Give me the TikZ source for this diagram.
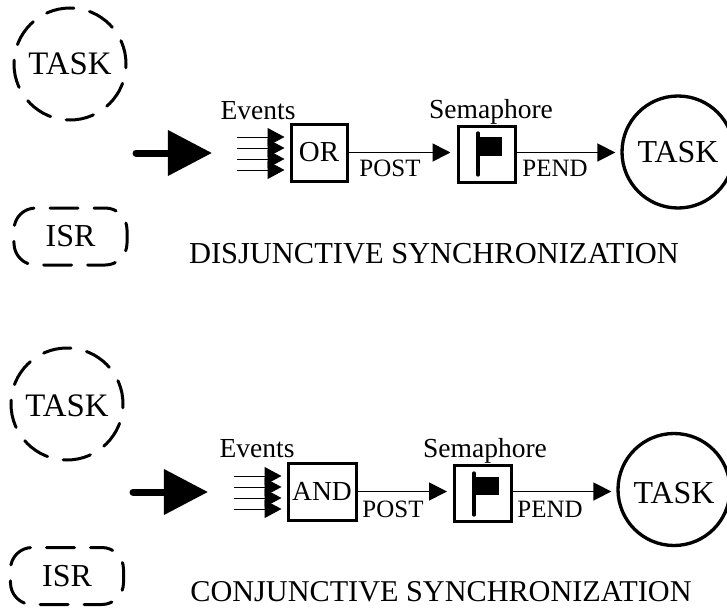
\documentclass[tikz,border=0pt]{standalone}
\usepackage{fontspec}
\setmainfont{Liberation Serif}
\usetikzlibrary{arrows.meta}

\begin{document}
\begin{tikzpicture}[x=0.03cm,y=-0.03cm,
		labeltext/.style={font=\fontsize{23.5}{26}\selectfont,inner sep=0},
		smalltext/.style={font=\fontsize{21.3}{24}\selectfont,inner sep=0},
		titletext/.style={font=\fontsize{26}{28}\selectfont,inner sep=0},
		dashtask/.style={circle,draw,line width=0.09cm,line cap=round,dash pattern=on 0.84cm off 0.48cm,dash phase=0.12cm,minimum size=3.36cm,inner sep=0,font=\fontsize{28}{30}\selectfont},
		dashisr/.style={rectangle,rounded corners=0.65cm,draw,line width=0.09cm,line cap=round,dash pattern=on 0.84cm off 0.48cm,dash phase=0.5cm,minimum width=3.39cm,minimum height=1.71cm,inner sep=0,font=\fontsize{27.3}{30}\selectfont},
		gatebox/.style={rectangle,draw,line width=0.09cm,minimum height=1.71cm,inner sep=0,font=\fontsize{24.7}{28}\selectfont},
		sembox/.style={rectangle,draw,line width=0.09cm,minimum width=1.71cm,minimum height=1.68cm,inner sep=0},
		solidtask/.style={circle,draw,line width=0.1cm,minimum size=3.36cm,inner sep=0,font=\fontsize{27.3}{30}\selectfont},
		bigarrow/.style={line width=0.21cm,line cap=round,-{Triangle[length=1.32cm,width=1.32cm]}},
		eventarrow/.style={line width=0.03cm,-{Triangle[length=0.51cm,width=0.54cm]},shorten >=0.15cm},
		linkarrow/.style={line width=0.05cm,-{Triangle[length=0.54cm,width=0.54cm]}}]
	\useasboundingbox (0,0) rectangle (727,610);

	% Disjunctive: sources
	\node[dashtask] (taskA) at (70,64) {TASK};
	\node[dashisr] (isrA) at (70.5,236.5) {ISR};
	\coordinate (bigA) at (136,153);
	\coordinate (bigAend) at (212,153);
	\draw[bigarrow] (bigA) -- (bigAend);

	% Disjunctive: events and OR
	\node[gatebox,minimum width=1.68cm] (orbox) at (319,152.5) {OR};
	\node[labeltext] (eventsA) at (258,111) {Events};
	\coordinate (evA1) at (237,137);
	\coordinate (evA2) at (237,148);
	\coordinate (evA3) at (237,159);
	\coordinate (evA4) at (237,170);
	\draw[eventarrow] (evA1) -- (evA1 -| orbox.west);
	\draw[eventarrow] (evA2) -- (evA2 -| orbox.west);
	\draw[eventarrow] (evA3) -- (evA3 -| orbox.west);
	\draw[eventarrow] (evA4) -- (evA4 -| orbox.west);

	% Disjunctive: semaphore
	\node[sembox] (semA) at (486.5,154) {};
	\node[labeltext] (semlabelA) at (491,112) {Semaphore};
	\fill (478,137) rectangle (502,156);
	\draw[line width=0.1cm,line cap=round] (478,133) -- (478,175);
	\draw[linkarrow,shorten >=0.18cm] (orbox.east) -- (orbox.east -| semA.west);
	\node[smalltext] (postA) at (390,168) {POST};

	% Disjunctive: task
	\node[solidtask] (taskB) at (678,152) {TASK};
	\draw[linkarrow,shorten >=0.15cm] (orbox.east -| semA.east) -- (orbox.east -| taskB.west);
	\node[smalltext] (pendA) at (555,168) {PEND};
	\node[titletext] (titleA) at (434,254) {DISJUNCTIVE SYNCHRONIZATION};

	% Conjunctive: sources
	\node[dashtask,text height=0.75cm] (taskC) at (67,404) {TASK};
	\node[dashisr] (isrC) at (67,576) {ISR};
	\coordinate (bigC) at (133,492);
	\coordinate (bigCend) at (208,492);
	\draw[bigarrow] (bigC) -- (bigCend);

	% Conjunctive: events and AND
	\node[gatebox,minimum width=2.04cm,font=\fontsize{23.5}{26}\selectfont] (andbox) at (322,491.5) {AND};
	\node[labeltext] (eventsC) at (257,449) {Events};
	\coordinate (evC1) at (234,476);
	\coordinate (evC2) at (234,487);
	\coordinate (evC3) at (234,498);
	\coordinate (evC4) at (234,509);
	\draw[eventarrow] (evC1) -- (evC1 -| andbox.west);
	\draw[eventarrow] (evC2) -- (evC2 -| andbox.west);
	\draw[eventarrow] (evC3) -- (evC3 -| andbox.west);
	\draw[eventarrow] (evC4) -- (evC4 -| andbox.west);

	% Conjunctive: semaphore
	\node[sembox] (semC) at (483,493.5) {};
	\node[labeltext] (semlabelC) at (485,451) {Semaphore};
	\fill (474,477) rectangle (499,495);
	\draw[line width=0.1cm,line cap=round] (474,473) -- (474,515);
	\draw[linkarrow,shorten >=0.18cm] (andbox.east) -- (andbox.east -| semC.west);
	\node[smalltext] (postC) at (393,509) {POST};

	% Conjunctive: task
	\node[solidtask,text height=0.84cm] (taskD) at (674,489.5) {TASK};
	\draw[linkarrow,shorten >=0.15cm] (andbox.east -| semC.east) -- (andbox.east -| taskD.west);
	\node[smalltext] (pendC) at (550,509) {PEND};
	\node[titletext,font=\fontsize{25.8}{28}\selectfont] (titleC) at (441,592) {CONJUNCTIVE SYNCHRONIZATION};
\end{tikzpicture}
\end{document}
